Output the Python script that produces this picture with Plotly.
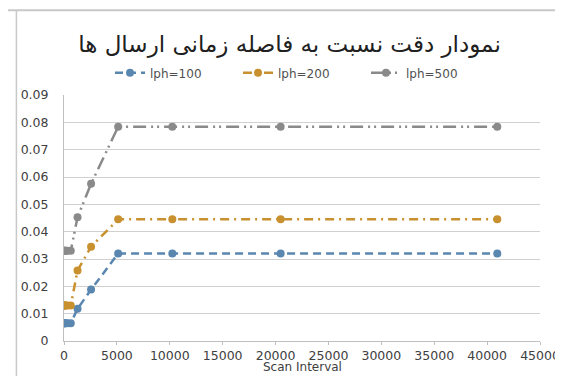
import plotly.graph_objects as go

scan_interval = [20, 40, 80, 160, 320, 640, 1280, 2560, 5120, 10240, 20480, 40960]
lph100 = [0.0065, 0.0065, 0.0065, 0.0065, 0.0065, 0.0065, 0.0118, 0.0188, 0.0320, 0.0320, 0.0320, 0.0320]
lph200 = [0.0130, 0.0130, 0.0130, 0.0130, 0.0130, 0.0130, 0.0258, 0.0345, 0.0445, 0.0445, 0.0445, 0.0445]
lph500 = [0.0330, 0.0330, 0.0330, 0.0330, 0.0330, 0.0330, 0.0453, 0.0575, 0.0784, 0.0784, 0.0784, 0.0784]
series_names = ["lph=100", "lph=200", "lph=500"]
title_text = "نمودار دقت نسبت به فاصله زمانی ارسال ها"
x_title = "Scan Interval"
x_ticks = [0, 5000, 10000, 15000, 20000, 25000, 30000, 35000, 40000, 45000]
y_ticks = [0, 0.01, 0.02, 0.03, 0.04, 0.05, 0.06, 0.07, 0.08, 0.09]

colors = ["#5A87B0", "#C8902E", "#8A8A8A"]
dashes = ["8px,5px", "9px,5px,2px,5px", "13px,5px,2px,4px,2px,5px"]

fig = go.Figure()
for name, ys, c, d in zip(series_names, [lph100, lph200, lph500], colors, dashes):
    fig.add_trace(go.Scatter(
        x=scan_interval, y=ys, name=name, mode="lines+markers",
        line=dict(color=c, width=2.5, dash=d),
        marker=dict(color=c, size=8, symbol="circle"),
    ))

fig.update_layout(
    width=563, height=376,
    margin=dict(l=56, r=31, t=87, b=43),
    paper_bgcolor="white", plot_bgcolor="white",
    font=dict(family="'DejaVu Sans', sans-serif", size=13, color="#404040"),
    title=dict(text=title_text, x=0.5, xanchor="center", y=0.905, yanchor="middle",
               font=dict(family="'DejaVu Sans'", size=23, color="#202020")),
    legend=dict(orientation="h", x=0.5, xanchor="center", y=1.09, yanchor="middle",
                font=dict(size=12, color="#505050"),
                itemwidth=30,
                entrywidth=83, entrywidthmode="pixels",
                bgcolor="rgba(0,0,0,0)"),
    showlegend=True,
    xaxis=dict(range=[0, 45000], tickvals=x_ticks, ticktext=[str(v) for v in x_ticks],
               showgrid=False, zeroline=False, showline=True, linecolor="#BFBFBF",
               ticks="outside", ticklen=3, tickcolor="#BFBFBF",
               tickfont=dict(size=12.5, color="#404040")),
    yaxis=dict(range=[0, 0.09], tickvals=y_ticks,
               ticktext=["0"] + ["%.2f" % v for v in y_ticks[1:]],
               showgrid=True, gridcolor="#D0D0D0", gridwidth=1, zeroline=False,
               showline=True, linecolor="#BFBFBF", ticklabelstandoff=12,
               tickfont=dict(size=12.5, color="#404040")),
    annotations=[
        dict(text=x_title, xref="paper", yref="paper", x=0.5, y=-0.105,
             xanchor="center", yanchor="middle", showarrow=False,
             font=dict(size=12, color="#404040")),
    ],
    shapes=[
        dict(type="line", xref="paper", yref="paper", x0=-0.12, x1=1.08, y0=1.345, y1=1.345,
             line=dict(color="#C8C8C8", width=2)),
        dict(type="line", xref="paper", yref="paper", x0=-0.1, x1=-0.1, y0=1.345, y1=-0.17,
             line=dict(color="#C8C8C8", width=1.5)),
    ],
)

fig.write_html("out.html")
